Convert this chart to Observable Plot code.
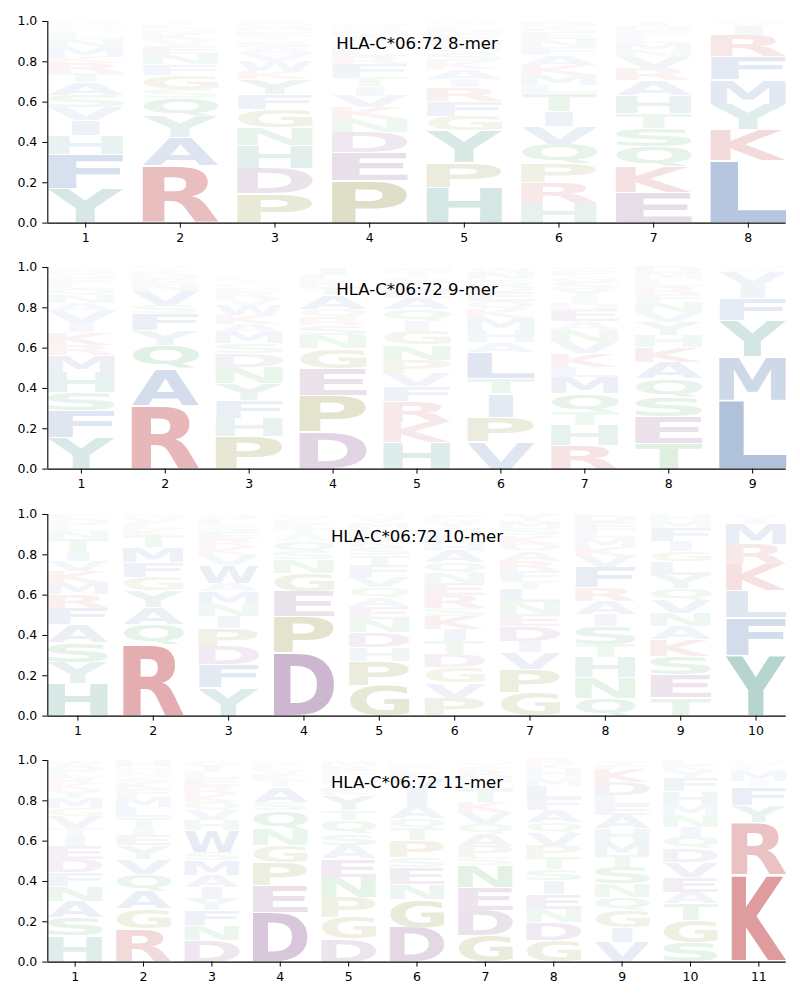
<!DOCTYPE html>
<html>
<head>
<meta charset="utf-8">
<script src="https://cdn.jsdelivr.net/npm/d3@7"></script>
<script src="https://cdn.jsdelivr.net/npm/@observablehq/plot@0.6"></script>
<style>
  body { margin: 0; background: #fff; }
  #chart svg { display: block; }
</style>
</head>
<body>
<div id="chart"></div>
<script>
// ---------- data ----------
const panelTitles = ["HLA-C*06:72 8-mer", "HLA-C*06:72 9-mer", "HLA-C*06:72 10-mer", "HLA-C*06:72 11-mer"];
const yTicks = [0, 0.2, 0.4, 0.6, 0.8, 1.0];

// letters per position, bottom to top
const letters8 = ["YFHIVSATRKMNLQEDWG", "RAYQSGFNEVKMLT", "PDHNGFYKWVASTEMQL", "PEDNKVITFRLSAMGQ",
                  "HPYGFRIAKSQNEMLWD", "HRPQVITLMKAFNESD", "EKQSTHARVNMLFDI", "LKYMFRIVA"];
const heights8 = [
  [.17,.17,.094,.075,.066,.06,.063,.046,.05,.03,.05,.04,.03,.015,.015,.01,.005,.011],
  [.283,.14,.107,.09,.045,.07,.055,.05,.04,.03,.03,.02,.02,.02],
  [.145,.124,.116,.09,.09,.075,.075,.04,.05,.04,.03,.03,.025,.02,.02,.02,.01],
  [.21,.14,.1,.066,.058,.058,.045,.046,.066,.04,.04,.03,.03,.02,.02,.021],
  [.174,.124,.16,.074,.074,.066,.04,.05,.04,.04,.03,.03,.03,.025,.02,.013,.01],
  [.1,.1,.096,.096,.09,.074,.088,.04,.05,.05,.05,.04,.04,.03,.03,.026],
  [.15,.13,.1,.09,.074,.09,.074,.058,.058,.03,.04,.03,.03,.025,.021],
  [.31,.155,.125,.12,.115,.105,.045,.015,.01]
];

const letters9 = ["YFSHMRKIVANQLEGDW", "RAQYFSVNEMKT", "PHFYNDSMAKWVREGTL", "DPEGNSRQATKLI",
                  "HKRFVPNGIQAELSTM", "VPITLAHMKQEDSNW", "RHTQMLKVNAEDIYSGFW", "TESQAKHYVNFRLMD", "LMYFIVAW"];
const heights9 = [
  [.154,.137,.09,.1,.083,.05,.063,.045,.06,.04,.04,.03,.03,.025,.02,.018,.015],
  [.313,.185,.116,.075,.083,.04,.07,.03,.03,.02,.02,.018],
  [.16,.09,.09,.083,.083,.066,.05,.058,.04,.045,.05,.03,.03,.025,.02,.02,.01],
  [.184,.182,.132,.1,.066,.05,.04,.04,.07,.04,.03,.03,.036],
  [.134,.1,.1,.075,.066,.066,.075,.066,.05,.058,.058,.04,.035,.03,.025,.022],
  [.134,.124,.116,.075,.13,.05,.06,.06,.045,.04,.045,.035,.03,.03,.026],
  [.118,.1,.066,.09,.083,.05,.066,.058,.06,.04,.06,.03,.03,.04,.035,.03,.025,.019],
  [.126,.132,.1,.09,.083,.075,.058,.066,.05,.05,.04,.04,.03,.03,.03],
  [.34,.215,.18,.11,.065,.065,.015,.01]
];

const letters10 = ["HYSAFRMKVITNLQE", "RQAYGFMTKLVN", "YFDPINMAWVKRESLQ", "DPEGNSQATKLVR",
                   "GPHDNEAQVFTSKRLMYW", "PVGDTIKSRENQAHLMYWF", "GPVIDENLTFRAQKSMY",
                   "QNHTSIARFVKMLED", "TESKANVQYLGIFMH", "YFLKRMIV"];
const heights10 = [
  [.16,.104,.1,.09,.083,.066,.058,.058,.05,.05,.058,.04,.03,.03,.023],
  [.355,.1,.083,.083,.066,.075,.075,.058,.03,.03,.025,.02],
  [.14,.116,.09,.09,.058,.058,.066,.04,.09,.05,.04,.04,.035,.03,.03,.027],
  [.314,.182,.124,.09,.066,.04,.05,.03,.03,.025,.02,.02,.009],
  [.15,.124,.066,.075,.066,.058,.05,.05,.05,.058,.05,.04,.035,.03,.03,.025,.023,.02],
  [.09,.075,.075,.066,.066,.058,.066,.04,.066,.058,.05,.05,.058,.04,.04,.03,.03,.02,.022],
  [.116,.116,.083,.058,.075,.058,.058,.066,.04,.05,.05,.045,.04,.04,.035,.035,.035],
  [.09,.1,.1,.066,.09,.058,.066,.066,.1,.058,.045,.045,.04,.04,.036],
  [.09,.116,.09,.083,.066,.066,.066,.058,.066,.066,.05,.05,.066,.035,.032],
  [.3,.19,.132,.132,.1,.1,.03,.016]
];

const letters11 = ["HSANFDEITVGMYKRLQW", "RGAQVYEITLMFKSNDH", "DNFYIAMSWHVQKRELTG", "DEPGNQSATKVLRM",
                   "DGPNEASQTYKVLFRM", "DGNESPTQAIVKLRF", "GDENSPAQVKTLMRFY", "GDNEISTPVQAFLMHKR",
                   "VIGQNSTMHAELDKFY", "SGTAEVDQINMHFYKL", "KRYFIMLVW"];
const heights11 = [
  [.13,.09,.083,.075,.066,.066,.066,.05,.04,.058,.04,.05,.04,.03,.03,.03,.03,.025],
  [.164,.1,.09,.083,.075,.066,.05,.04,.05,.05,.05,.04,.03,.03,.025,.022,.035],
  [.106,.075,.075,.058,.058,.058,.075,.04,.108,.05,.05,.04,.04,.04,.04,.03,.03,.027],
  [.247,.132,.116,.083,.083,.09,.04,.075,.03,.03,.025,.02,.02,.009],
  [.114,.108,.1,.1,.09,.066,.058,.066,.05,.075,.03,.03,.03,.03,.025,.025],
  [.172,.14,.075,.083,.05,.083,.058,.05,.066,.066,.066,.03,.02,.02,.011],
  [.13,.124,.116,.108,.04,.058,.058,.05,.058,.05,.066,.03,.03,.03,.02,.02],
  [.106,.09,.066,.075,.066,.058,.058,.058,.066,.05,.058,.058,.066,.04,.04,.025,.025],
  [.098,.075,.083,.066,.066,.083,.058,.066,.066,.066,.05,.05,.066,.066,.02,.02],
  [.098,.108,.083,.058,.075,.075,.066,.058,.05,.058,.05,.066,.066,.04,.025,.025],
  [.43,.265,.083,.09,.03,.05,.02,.015,.017]
];

// letter groups and their base colours
const groupLetters = ["AVILMFWC", "KR", "HY", "DE", "PG", "STNQ"];
const groupColors  = ["#4C72B0", "#C44E52", "#449389", "#854F8C", "#8A8A32", "#3CA550"];

// ---------- build ----------
const panels = [
  [letters8, heights8], [letters9, heights9], [letters10, heights10], [letters11, heights11]
];
const baseColor = ch => groupColors[groupLetters.findIndex(s => s.includes(ch))] || "#888888";
const VPAD = 0.04, GLYPH_W = 0.8;

const ctx = document.createElement("canvas").getContext("2d");
ctx.font = "bold 100px 'DejaVu Sans'";
const ink = ch => {
  const m = ctx.measureText(ch);
  return {l: m.actualBoundingBoxLeft, r: m.actualBoundingBoxRight, a: m.actualBoundingBoxAscent, d: m.actualBoundingBoxDescent};
};
const inkE = ink("E");
const wE = inkE.l + inkE.r;

const chart = document.getElementById("chart");

panels.forEach(([letters, heights], p) => {
  const n = letters.length;
  const rows = [];
  letters.forEach((col, i) => {
    let y = 0;
    [...col].forEach((ch, j) => {
      const h = heights[i][j];
      const alpha = Math.min(1, 1.3 * h);
      rows.push({pos: i + 1, letter: ch, y0: y, y1: y + h, yc: y + h / 2, h,
                 color: d3.interpolateRgb("#ffffff", baseColor(ch))(alpha)});
      y += h;
    });
  });
  const positions = d3.range(1, n + 1);

  const svg = Plot.plot({
    width: 800, height: 246.3,
    marginLeft: 47.3, marginRight: 14.3, marginTop: 21, marginBottom: 23.7,
    style: {fontFamily: "DejaVu Sans", fontSize: "12.5px", color: "black", background: "white"},
    x: {domain: [0.6, n + 0.4], label: null},
    y: {domain: [0, 1], label: null},
    color: {type: "identity"},
    marks: [
      Plot.text(rows, {x: "pos", y: "yc", text: "letter", fill: "color",
                       fontFamily: "DejaVu Sans", fontWeight: "bold", fontSize: 100, textAnchor: "start"}),
      Plot.ruleX([0.6], {stroke: "black", strokeWidth: 1.1}),
      Plot.ruleY([0], {stroke: "black", strokeWidth: 1.1}),
      Plot.axisX({ticks: positions, tickFormat: d => String(d), tickSize: 5, tickPadding: 5, label: null}),
      Plot.axisY({ticks: yTicks, tickFormat: d3.format(".1f"), tickSize: 5, tickPadding: 5.5, label: null}),
      Plot.text([panelTitles[p]], {text: d => d, frameAnchor: "top", dy: 15.4, fontSize: 16.6, fill: "black"})
    ]
  });

  // stretch each glyph to fill its box in data space, via the plot's own scales
  const xs = svg.scale("x"), ys = svg.scale("y");
  const groups = [...svg.querySelectorAll("g")].filter(g => g.children.length === rows.length &&
                   [...g.children].every(c => c.tagName.toLowerCase() === "text"));
  const logoGroup = groups[0];
  const texts = logoGroup ? [...logoGroup.children] : [];
  texts.forEach((el, i) => {
    const r = rows[i];
    const m = ink(r.letter);
    const w = m.l + m.r, gh = m.a + m.d;
    const X0 = xs.apply(r.pos - GLYPH_W / 2), X1 = xs.apply(r.pos + GLYPH_W / 2);
    const pad = r.h * VPAD / 2;
    const Yt = ys.apply(r.y1 - pad), Yb = ys.apply(r.y0 + pad);
    const W = X1 - X0, H = Yb - Yt;
    const sx = Math.min(W / w, W / wE), sy = H / gh;
    const cx = (X0 + X1) / 2;
    el.removeAttribute("x"); el.removeAttribute("y"); el.removeAttribute("dy");
    el.setAttribute("text-anchor", "start");
    el.setAttribute("transform",
      `translate(${cx},${Yt}) scale(${sx},${sy}) translate(${-(m.r - m.l) / 2},${m.a})`);
  });
  chart.appendChild(svg);
});
</script>
</body>
</html>
